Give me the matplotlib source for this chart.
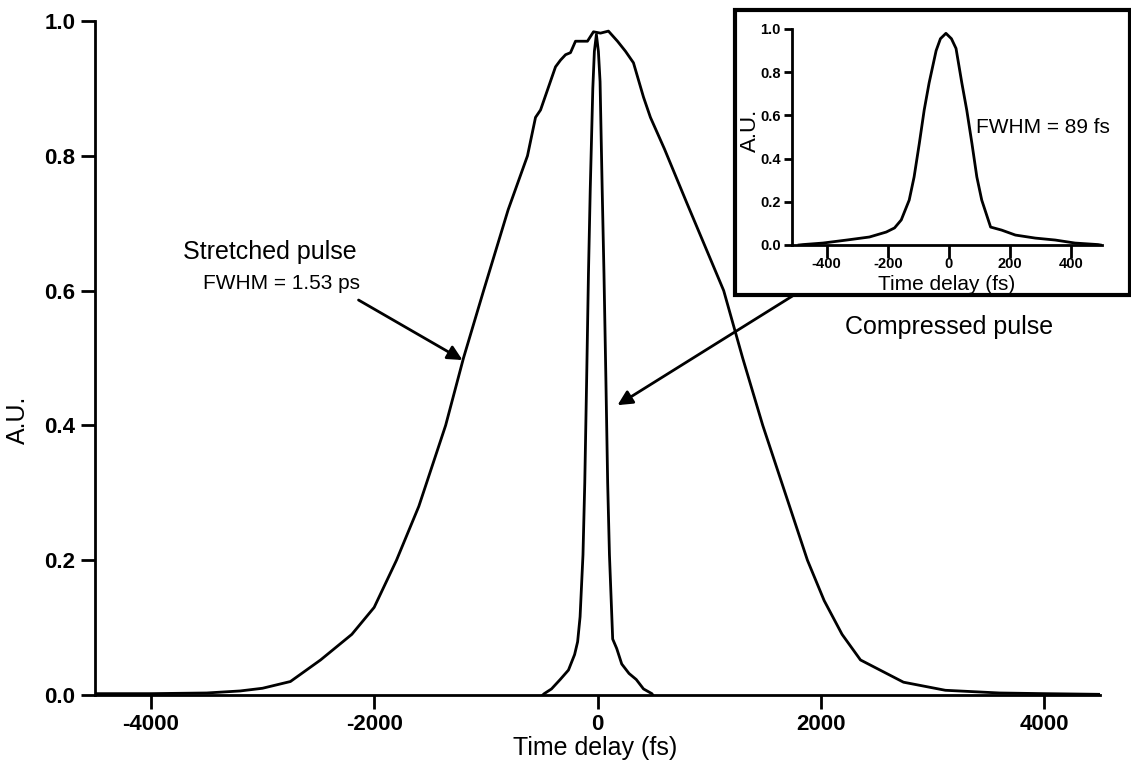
import matplotlib
matplotlib.use("Agg")
import matplotlib.pyplot as plt
from matplotlib.patches import Rectangle

plt.rcParams['font.family'] = ['Liberation Sans', 'DejaVu Sans']

# stretched pulse (autocorrelation), time delay in fs
stretched_t = [-4500, -4000, -3500, -3200, -3000, -2750, -2480, -2200, -2000,
               -1800, -1600, -1360, -1200, -1020, -800, -627, -555, -510, -376,
               -331, -286, -242, -197, -90, -36, 27, 98, 179, 251, 322, 412,
               474, 600, 800, 1130, 1300, 1480, 1680, 1880, 2030, 2190, 2355,
               2740, 3115, 3600, 4000, 4500]
stretched_y = [0.002, 0.002, 0.003, 0.006, 0.010, 0.020, 0.052, 0.09, 0.13,
               0.20, 0.28, 0.40, 0.50, 0.60, 0.72, 0.80, 0.857, 0.868, 0.932,
               0.942, 0.950, 0.953, 0.970, 0.970, 0.984, 0.982, 0.985, 0.970,
               0.955, 0.938, 0.887, 0.857, 0.81, 0.73, 0.60, 0.50, 0.40, 0.30,
               0.20, 0.14, 0.09, 0.052, 0.019, 0.007, 0.003, 0.002, 0.001]

# compressed pulse
compressed_t = [-490, -477, -412, -334, -260, -205, -178, -156, -130, -114,
                -97, -81, -65, -42, -28, -10, 8, 23, 42, 58, 75, 91, 107, 136,
                172, 217, 282, 347, 412, 487, 495]
compressed_y = [0.0, 0.002, 0.009, 0.023, 0.037, 0.060, 0.079, 0.116, 0.208,
                0.315, 0.47, 0.625, 0.75, 0.90, 0.955, 0.98, 0.955, 0.91,
                0.75, 0.625, 0.47, 0.315, 0.208, 0.083, 0.069, 0.046, 0.032,
                0.023, 0.009, 0.002, 0.0]

main_xticks = [-4000, -2000, 0, 2000, 4000]
main_yticks = [0.0, 0.2, 0.4, 0.6, 0.8, 1.0]
inset_xticks = [-400, -200, 0, 200, 400]

W, H = 1131, 766
fig = plt.figure(figsize=(W / 100, H / 100), dpi=100)


def box(x0, y0, x1, y1):
    # pixel box (top-left origin) -> figure fraction rect
    return [x0 / W, 1 - y1 / H, (x1 - x0) / W, (y1 - y0) / H]


ax = fig.add_axes(box(95, 21, 1100, 695))
ax.plot(stretched_t, stretched_y, color='k', lw=2)
ax.plot(compressed_t, compressed_y, color='k', lw=2)
ax.set_xlim(-4500, 4500)
ax.set_ylim(0, 1.0)
ax.set_xticks(main_xticks)
ax.set_yticks(main_yticks)
ax.set_xticklabels([str(v) for v in main_xticks], fontsize=16, fontweight='bold')
ax.set_yticklabels([f"{v:.1f}" for v in main_yticks], fontsize=16, fontweight='bold')
for s in ['top', 'right']:
    ax.spines[s].set_visible(False)
for s in ['left', 'bottom']:
    ax.spines[s].set_linewidth(2)
ax.tick_params(direction='out', length=10, width=2, pad=4)

fig.text(595 / W, 1 - 748 / H, "Time delay (fs)", fontsize=18, ha='center', va='center')
fig.text(18 / W, 1 - 420 / H, "A.U.", fontsize=18, ha='center', va='center', rotation=90)

ax.text(-3715, 0.657, "Stretched pulse", fontsize=18, va='center')
ax.text(-3536, 0.611, "FWHM = 1.53 ps", fontsize=15, va='center')
ax.text(2220, 0.546, "Compressed pulse", fontsize=18, va='center')

arrow = dict(arrowstyle='-|>', lw=2, color='k', mutation_scale=22, shrinkA=0, shrinkB=0)
ax.annotate("", xy=(-1209, 0.497), xytext=(-2140, 0.586), arrowprops=arrow)
ax.annotate("", xy=(179, 0.430), xytext=(1746, 0.592), arrowprops=arrow)

# inset frame
fig.patches.append(Rectangle((735 / W, 1 - 295 / H), 395 / W, 285 / H,
                             transform=fig.transFigure, fill=True, facecolor='white',
                             edgecolor='k', lw=3, zorder=2))

ins = fig.add_axes(box(792, 29, 1102, 245), zorder=3)
ins.patch.set_alpha(0)
ins.plot(compressed_t, compressed_y, color='k', lw=2)
ins.set_xlim(-513, 500)
ins.set_ylim(0, 1.0)
ins.set_xticks(inset_xticks)
ins.set_yticks(main_yticks)
ins.set_xticklabels([str(v) for v in inset_xticks], fontsize=10.5, fontweight='bold')
ins.set_yticklabels([f"{v:.1f}" for v in main_yticks], fontsize=10.5, fontweight='bold')
for s in ['top', 'right']:
    ins.spines[s].set_visible(False)
for s in ['left', 'bottom']:
    ins.spines[s].set_linewidth(2)
ins.tick_params(axis='y', direction='out', length=6, width=2, pad=2)
ins.tick_params(axis='x', direction='out', length=9, width=2, pad=0)
ins.text(88, 0.546, "FWHM = 89 fs", fontsize=15, va='center')

fig.text(947 / W, 1 - 284 / H, "Time delay (fs)", fontsize=15, ha='center', va='center', zorder=4)
fig.text(750 / W, 1 - 130 / H, "A.U.", fontsize=16, ha='center', va='center', rotation=90, zorder=4)

fig.savefig("out.png", dpi=100)
